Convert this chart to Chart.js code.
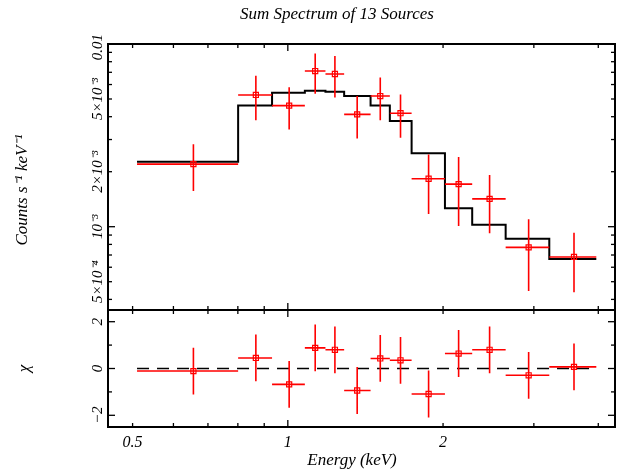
<!DOCTYPE html>
<html>
<head>
<meta charset="utf-8">
<script src="https://cdn.jsdelivr.net/npm/chart.js@4.4.1/dist/chart.umd.min.js"></script>
<style>
  html, body { margin: 0; padding: 0; background: #fff; }
  canvas { display: block; }
</style>
</head>
<body>
<canvas id="c" width="630" height="470"></canvas>
<script>
// ---- data ----
const energyLo = [0.510, 0.801, 0.932, 1.079, 1.183, 1.286, 1.447, 1.577, 1.738, 2.017, 2.278, 2.645, 3.214];
const energyHi = [0.801, 0.932, 1.079, 1.183, 1.286, 1.447, 1.577, 1.738, 2.017, 2.278, 2.645, 3.214, 3.965];
const energy   = [0.656, 0.867, 1.006, 1.130, 1.234, 1.363, 1.511, 1.654, 1.875, 2.144, 2.462, 2.931, 3.589];
const rate     = [2.20e-3, 5.26e-3, 4.60e-3, 7.11e-3, 6.85e-3, 4.12e-3, 5.19e-3, 4.18e-3, 1.83e-3, 1.71e-3, 1.42e-3, 7.71e-4, 6.83e-4];
const rateErr  = [0.63e-3, 1.44e-3, 1.20e-3, 1.77e-3, 1.75e-3, 1.08e-3, 1.37e-3, 1.11e-3, 0.655e-3, 0.70e-3, 0.50e-3, 0.326e-3, 0.245e-3];
const model    = [2.27e-3, 4.60e-3, 5.41e-3, 5.55e-3, 5.48e-3, 5.19e-3, 4.60e-3, 3.79e-3, 2.52e-3, 1.26e-3, 1.025e-3, 8.60e-4, 6.66e-4];
const chi      = [-0.11, 0.45, -0.68, 0.88, 0.80, -0.94, 0.43, 0.35, -1.09, 0.64, 0.80, -0.29, 0.07];
const chiErr   = [1, 1, 1, 1, 1, 1, 1, 1, 1, 1, 1, 1, 1];

// ---- ticks and labels ----
const xTickValues = [0.5, 1, 2];
const xTickLabels = ['0.5', '1', '2'];
const xMajorTicks = [1];
const xMinorTicks = [0.5, 0.6, 0.7, 0.8, 0.9, 2, 3, 4];
const rateTickValues = [5e-4, 1e-3, 2e-3, 5e-3, 1e-2];
const rateTickLabels = ['5×10⁻⁴', '10⁻³', '2×10⁻³', '5×10⁻³', '0.01'];
const rateMajorTicks = [1e-3, 1e-2];
const rateMinorTicks = [4e-4, 5e-4, 6e-4, 7e-4, 8e-4, 9e-4, 2e-3, 3e-3, 4e-3, 5e-3, 6e-3, 7e-3, 8e-3, 9e-3];
const chiTickValues = [-2, 0, 2];
const chiTickLabels = ['−2', '0', '2'];
const chiMajorTicks = [-2, 0, 2];
const chiMinorTicks = [-1, 1];

const titleText = 'Sum Spectrum of 13 Sources';
const xTitle = 'Energy (keV)';
const rateTitle = 'Counts s⁻¹ keV⁻¹';
const chiTitle = 'χ';

const FONT = '"Liberation Serif", "Times New Roman", serif';
const RED = '#ff0000';

// ---- build datasets from the arrays ----
const n = energy.length;
const stepData = energyLo.map((x, i) => ({x, y: model[i]})).concat([{x: energyHi[n - 1], y: model[n - 1]}]);
const rateXBars = [], rateYBars = [], chiXBars = [], chiYBars = [];
for (let i = 0; i < n; i++) {
  rateXBars.push({x: energyLo[i], y: rate[i]}, {x: energyHi[i], y: rate[i]}, {x: energyHi[i], y: null});
  rateYBars.push({x: energy[i], y: rate[i] - rateErr[i]}, {x: energy[i], y: rate[i] + rateErr[i]}, {x: energy[i], y: null});
  chiXBars.push({x: energyLo[i], y: chi[i]}, {x: energyHi[i], y: chi[i]}, {x: energyHi[i], y: null});
  chiYBars.push({x: energy[i], y: chi[i] - chiErr[i]}, {x: energy[i], y: chi[i] + chiErr[i]}, {x: energy[i], y: null});
}
const ratePts = energy.map((x, i) => ({x, y: rate[i]}));
const chiPts = energy.map((x, i) => ({x, y: chi[i]}));
const zeroLine = [{x: energyLo[0], y: 0}, {x: energyHi[n - 1], y: 0}];

const lineDs = (data, axis, color, width, order, extra) => Object.assign({
  data, yAxisID: axis, showLine: true, borderColor: color, borderWidth: width,
  pointRadius: 0, pointHoverRadius: 0, fill: false, spanGaps: false, order
}, extra || {});
const pointDs = (data, axis) => ({
  data, yAxisID: axis, showLine: false, pointStyle: 'rect', pointRadius: 3.6,
  borderColor: RED, backgroundColor: 'rgba(0,0,0,0)', pointBorderWidth: 1.2, borderWidth: 1.2, order: 1
});

// ---- frame, inward ticks, rotated labels, titles ----
const framePlugin = {
  id: 'frame',
  afterDatasetsDraw(chart) {
    const ctx = chart.ctx;
    const xs = chart.scales.x, yr = chart.scales.yRate, yc = chart.scales.yChi;
    const L = chart.chartArea.left, R = chart.chartArea.right;
    const MAJ = 7, MIN = 4;
    ctx.save();
    ctx.strokeStyle = '#000';
    ctx.lineWidth = 1.3;
    const seg = (x1, y1, x2, y2) => { ctx.beginPath(); ctx.moveTo(x1, y1); ctx.lineTo(x2, y2); ctx.stroke(); };
    // x ticks on every horizontal edge, pointing inward
    const edges = [[yr.top, 1], [yr.bottom, -1], [yc.top, 1], [yc.bottom, -1]];
    edges.forEach(([y, d]) => {
      xMinorTicks.forEach(v => { const p = xs.getPixelForValue(v); seg(p, y, p, y + d * MIN); });
      xMajorTicks.forEach(v => { const p = xs.getPixelForValue(v); seg(p, y, p, y + d * MAJ); });
    });
    // y ticks on left and right
    const yt = (scale, minor, major) => {
      minor.forEach(v => { const p = scale.getPixelForValue(v); seg(L, p, L + MIN, p); seg(R, p, R - MIN, p); });
      major.forEach(v => { const p = scale.getPixelForValue(v); seg(L, p, L + MAJ, p); seg(R, p, R - MAJ, p); });
    };
    yt(yr, rateMinorTicks, rateMajorTicks);
    yt(yc, chiMinorTicks, chiMajorTicks);
    // frames
    ctx.lineWidth = 2;
    ctx.strokeRect(L, yr.top, R - L, yr.bottom - yr.top);
    ctx.strokeRect(L, yc.top, R - L, yc.bottom - yc.top);

    // rotated y tick labels
    ctx.fillStyle = '#000';
    const rot = (text, x, y, font) => {
      ctx.save(); ctx.translate(x, y); ctx.rotate(-Math.PI / 2);
      ctx.font = font; ctx.textAlign = 'center'; ctx.textBaseline = 'alphabetic';
      ctx.fillText(text, 0, 0); ctx.restore();
    };
    const tickFont = 'italic 15px ' + FONT;
    rateTickValues.forEach((v, i) => rot(rateTickLabels[i], L - 6.5, yr.getPixelForValue(v) + (i === rateTickValues.length - 1 ? 3 : 0), tickFont));
    chiTickValues.forEach((v, i) => rot(chiTickLabels[i], L - 6.5, yc.getPixelForValue(v), tickFont));
    // axis titles
    const titleFont = 'italic 17px ' + FONT;
    rot(rateTitle, 27, 190, titleFont);
    rot(chiTitle, 29, (yc.top + yc.bottom) / 2, titleFont);
    ctx.font = titleFont; ctx.textAlign = 'center'; ctx.textBaseline = 'alphabetic';
    ctx.fillText(xTitle, 352, 465);
    ctx.fillText(titleText, 337, 19);
    ctx.restore();
  }
};

Chart.defaults.font.family = FONT;
new Chart(document.getElementById('c'), {
  type: 'scatter',
  data: {
    datasets: [
      lineDs(stepData, 'yRate', '#000', 2, 5, {stepped: 'before'}),
      lineDs(zeroLine, 'yChi', '#000', 1.5, 5, {borderDash: [12, 8]}),
      lineDs(rateXBars, 'yRate', RED, 1.6, 2),
      lineDs(rateYBars, 'yRate', RED, 1.6, 2),
      lineDs(chiXBars, 'yChi', RED, 1.6, 2),
      lineDs(chiYBars, 'yChi', RED, 1.6, 2),
      pointDs(ratePts, 'yRate'),
      pointDs(chiPts, 'yChi')
    ]
  },
  options: {
    responsive: false,
    animation: false,
    devicePixelRatio: 1,
    layout: {padding: {left: 0, right: 15, top: 44, bottom: 0}},
    plugins: {legend: {display: false}, tooltip: {enabled: false}, title: {display: false}},
    scales: {
      x: {
        type: 'logarithmic', position: 'bottom', min: 0.448, max: 4.31,
        grid: {display: false}, border: {display: false},
        afterBuildTicks: (s) => { s.ticks = xTickValues.map(v => ({value: v, major: false})); },
        afterFit: (s) => { s.height = 43; },
        ticks: {
          autoSkip: false, maxRotation: 0, minRotation: 0, padding: -2, color: '#000',
          font: {family: FONT, size: 16, style: 'italic'},
          callback: (v, i) => xTickLabels[i]
        }
      },
      yChi: {
        type: 'linear', position: 'left', stack: 'panels', stackWeight: 117, min: -2.5, max: 2.5,
        grid: {display: false}, border: {display: false}, ticks: {display: false},
        afterFit: (s) => { s.width = 108; }
      },
      yRate: {
        type: 'logarithmic', position: 'left', stack: 'panels', stackWeight: 266, min: 3.5e-4, max: 0.01,
        grid: {display: false}, border: {display: false}, ticks: {display: false},
        afterFit: (s) => { s.width = 108; }
      }
    }
  },
  plugins: [framePlugin]
});
</script>
</body>
</html>
